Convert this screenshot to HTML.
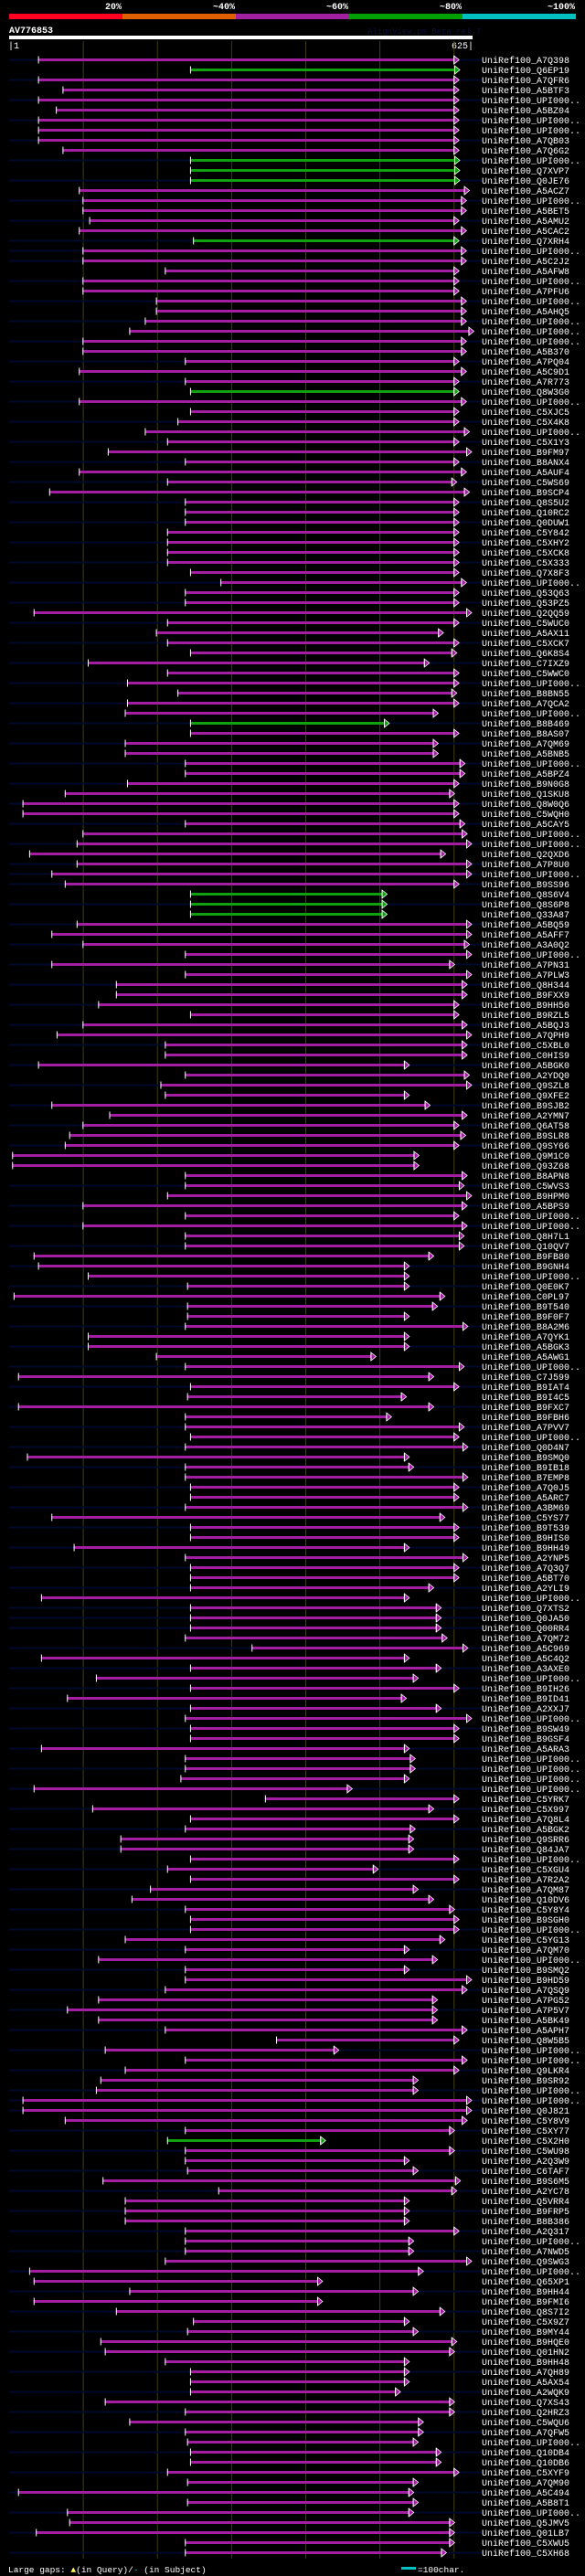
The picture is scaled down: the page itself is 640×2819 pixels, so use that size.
<!DOCTYPE html>
<html><head><meta charset="utf-8"><style>
html,body{margin:0;padding:0;background:#000;}
svg{display:block;}
text{font-family:"Liberation Mono",monospace;}
</style></head><body>
<svg id="chart" width="640" height="2819" xmlns="http://www.w3.org/2000/svg">
<rect x="0" y="0" width="640" height="2819" fill="#000"/>
<g>
<rect x="10" y="15" width="124" height="6" fill="#ff0022"/>
<rect x="134" y="15" width="124" height="6" fill="#e06000"/>
<rect x="258" y="15" width="124" height="6" fill="#a020a0"/>
<rect x="382" y="15" width="124" height="6" fill="#00a000"/>
<rect x="506" y="15" width="124" height="6" fill="#00c0c0"/>
<text x="133" y="10" fill="#fff" font-size="10" font-weight="bold" text-anchor="end">20%</text>
<text x="257" y="10" fill="#fff" font-size="10" font-weight="bold" text-anchor="end">~40%</text>
<text x="381" y="10" fill="#fff" font-size="10" font-weight="bold" text-anchor="end">~60%</text>
<text x="505" y="10" fill="#fff" font-size="10" font-weight="bold" text-anchor="end">~80%</text>
<text x="629" y="10" fill="#fff" font-size="10" font-weight="bold" text-anchor="end">~100%</text>
</g>
<text x="10" y="36" fill="#fff" font-size="10" font-weight="bold">AV776853</text>
<text x="402" y="37" fill="#101038" font-size="9">AlignView.pm Beta rel.7</text>
<rect x="10" y="39" width="507" height="4" fill="#fff"/>
<text x="9" y="53" fill="#fff" font-size="10">|1</text>
<text x="518" y="53" fill="#fff" font-size="10" text-anchor="end">625|</text>
<g id="grid"></g>
<g id="rows"></g>
<g>
<text x="9" y="2815" fill="#fff" font-size="9.5">Large gaps: <tspan fill="#ffff60">▲</tspan>(in Query)/<tspan fill="#00c0c0">-</tspan> (in Subject)</text>
<rect x="439" y="2809" width="16" height="3" fill="#00c0c0"/>
<text x="457" y="2815" fill="#fff" font-size="9.5">=100char.</text>
</g>
</svg>
<script>
const starts=[39,244,39,72,39,63,39,39,39,72,244,244,244,94,99,99,108,94,248,99,99,210,99,99,198,198,183,162,99,99,237,94,237,244,94,244,227,183,213,133,237,94,213,54,237,237,237,213,213,213,213,244,285,237,237,33,213,198,213,244,106,213,
159,227,159,156,244,244,156,156,237,237,159,75,18,18,237,99,91,27,91,57,75,244,244,244,91,57,99,237,57,237,144,144,120,244,99,64,210,210,39,237,204,210,57,135,99,81,75,4,4,237,237,213,99,237,99,237,237,33,39,106,240,6,
240,240,237,106,106,198,237,12,244,240,12,237,237,244,237,24,237,237,244,244,237,57,244,244,87,237,244,244,244,43,244,244,244,237,327,43,244,117,244,78,244,237,244,244,43,237,237,231,33,345,112,244,237,150,150,244,213,244,190,165,237,
244,244,156,237,120,237,237,210,120,78,120,210,360,129,237,156,123,117,18,18,75,237,213,237,237,240,126,282,156,156,156,237,237,237,210,27,33,162,33,144,248,240,123,129,210,244,244,244,129,237,162,237,240,244,244,213,240,12,240,78,81,36,237,237];
const ends=[600,601,600,600,600,600,600,600,600,600,601,601,601,614,610,610,600,610,600,610,610,600,600,600,610,610,610,620,610,610,600,610,600,600,610,600,600,614,600,617,600,610,597,614,600,600,600,600,600,600,600,600,610,600,600,617,600,579,600,597,560,600,
600,597,600,572,506,600,572,572,608,608,600,594,600,600,608,611,617,582,617,617,600,503,503,503,617,617,614,617,594,617,611,611,600,600,611,617,611,611,533,614,617,533,561,611,600,609,600,546,546,611,607,617,611,600,611,607,607,566,533,533,533,581,
571,533,612,533,533,488,607,566,600,529,566,509,607,600,612,533,539,612,600,600,612,581,600,600,533,612,600,600,566,533,576,576,576,584,612,533,576,545,600,529,576,617,600,600,533,541,541,533,456,600,566,600,541,539,539,600,491,600,545,566,594,
600,600,581,533,571,533,617,611,571,571,571,611,600,438,611,600,545,545,617,617,611,594,420,594,533,545,602,597,533,533,533,600,539,539,617,552,416,545,416,581,533,545,597,594,533,533,533,521,594,594,552,552,545,576,576,600,545,539,545,539,594,594,594,583];
const greens=[1,10,11,12,18,33,66,83,84,85,207];
const navy=[1,0,1,0,1,0,1,0,1,0,1,0,1,0,1,0,1,0,1,1,1,0,1,0,1,0,1,0,1,0,1,0,1,0,1,0,1,0,1,0,1,0,1,0,1,0,1,0,1,0,1,0,1,0,1,0,1,0,1,0,1,0,
1,0,1,0,1,0,1,0,1,0,1,0,1,0,1,0,1,0,1,1,1,0,1,0,1,0,1,0,1,0,1,0,1,0,1,0,1,0,1,0,1,0,1,0,1,0,1,0,0,0,1,0,1,0,1,0,1,0,1,0,1,0,
1,0,1,0,1,0,1,0,1,0,1,0,1,0,1,0,1,0,1,0,1,0,1,0,1,0,1,0,1,0,1,1,1,0,1,0,1,0,1,0,1,0,1,0,1,0,1,0,1,0,1,0,1,0,1,0,1,0,1,0,1,
0,1,0,1,0,1,0,1,0,1,0,1,0,1,0,1,0,1,1,1,0,1,0,1,0,1,0,1,0,1,0,1,0,1,0,1,0,1,0,1,0,1,0,1,0,1,0,1,0,1,0,1,0,1,0,1,0,1,0,1,0,1,0,1];
const labels=["A7Q398","Q6EP19","A7QFR6","A5BTF3","UPI000..","A5BZ04","UPI000..","UPI000..","A7QB03","A7Q6G2","UPI000..","Q7XVP7","Q0JE76","A5ACZ7","UPI000..","A5BET5","A5AMU2","A5CAC2","Q7XRH4","UPI000..","A5C2J2","A5AFW8","UPI000..","A7PFU6","UPI000..","A5AHQ5","UPI000..","UPI000..","UPI000..","A5B370","A7PQ04","A5C9D1","A7R773","Q8W3G0","UPI000..","C5XJC5","C5X4K8","UPI000..","C5X1Y3","B9FM97","B8ANX4","A5AUF4","C5WS69","B9SCP4","Q8S5U2","Q10RC2","Q0DUW1","C5Y842","C5XHY2","C5XCK8","C5X333","Q7X8F3","UPI000..","Q53Q63","Q53PZ5","Q2QQ59","C5WUC0","A5AX11","C5XCK7","Q6K8S4","C7IXZ9","C5WWC0",
"UPI000..","B8BN55","A7QCA2","UPI000..","B8B469","B8AS07","A7QM69","A5BNB5","UPI000..","A5BPZ4","B9N0G8","Q1SKU8","Q8W0Q6","C5WQH0","A5CAY5","UPI000..","UPI000..","Q2QXD6","A7P8U0","UPI000..","B9SS96","Q8S6V4","Q8S6P8","Q33A87","A5BQ59","A5AFF7","A3A0Q2","UPI000..","A7PN31","A7PLW3","Q8H344","B9FXX9","B9HH50","B9RZL5","A5BQJ3","A7QPH9","C5XBL0","C0HIS9","A5BGK0","A2YDQ0","Q9SZL8","Q9XFE2","B9SJB2","A2YMN7","Q6AT58","B9SLR8","Q9SY66","Q9M1C0","Q93Z68","B8APN8","C5WVS3","B9HPM0","A5BPS9","UPI000..","UPI000..","Q8H7L1","Q10QV7","B9FB80","B9GNH4","UPI000..","Q0E0K7","C0PL97",
"B9T540","B9F0F7","B8A2M6","A7QYK1","A5BGK3","A5AWG1","UPI000..","C7J599","B9IAT4","B9I4C5","B9FXC7","B9FBH6","A7PVV7","UPI000..","Q0D4N7","B9SMQ0","B9IB18","B7EMP8","A7Q0J5","A5ARC7","A3BM69","C5YS77","B9T539","B9HIS0","B9HH49","A2YNP5","A7Q3Q7","A5BT70","A2YLI9","UPI000..","Q7XTS2","Q0JA50","Q00RR4","A7QM72","A5C969","A5C4Q2","A3AXE0","UPI000..","B9IH26","B9ID41","A2XXJ7","UPI000..","B9SW49","B9GSF4","A5ARA3","UPI000..","UPI000..","UPI000..","UPI000..","C5YRK7","C5X997","A7Q8L4","A5BGK2","Q9SRR6","Q84JA7","UPI000..","C5XGU4","A7R2A2","A7QM87","Q10DV6","C5Y8Y4",
"B9SGH0","UPI000..","C5YG13","A7QM70","UPI000..","B9SMQ2","B9HD59","A7QSQ9","A7PG52","A7P5V7","A5BK49","A5APH7","Q8W5B5","UPI000..","UPI000..","Q9LKR4","B9SR92","UPI000..","UPI000..","Q0J821","C5Y8V9","C5XY77","C5X2H0","C5WU98","A2Q3W9","C6TAF7","B9S6M5","A2YC78","Q5VRR4","B9FRP5","B8B386","A2Q317","UPI000..","A7NWD5","Q9SWG3","UPI000..","Q65XP1","B9HH44","B9FMI6","Q8S7I2","C5X9Z7","B9MY44","B9HQE0","Q01HN2","B9HH48","A7QH89","A5AX54","A2WQK9","Q7XS43","Q2HRZ3","C5WQU6","A7QFW5","UPI000..","Q10DB4","Q10DB6","C5XYF9","A7QM90","A5C494","A5B8T1","UPI000..","Q5JMV5","Q01LB7","C5XWU5","C5XH68"];
const gridTicks=[100,200,300,400,500,600];

const NS="http://www.w3.org/2000/svg";
function xs(p){return 10+p*0.8112;}
function ys(i){return 65.5+i*11;}
function mk(tag,attrs,parent){const e=document.createElementNS(NS,tag);for(const k in attrs)e.setAttribute(k,attrs[k]);parent.appendChild(e);return e;}
const grid=document.getElementById('grid');
gridTicks.forEach(t=>{
  const l=mk('line',{x1:xs(t),x2:xs(t),y1:45,y2:2800,stroke:'#3e3e14','stroke-width':1},grid);
  
  
});
const rows=document.getElementById('rows');
for(let i=0;i<starts.length;i++){
  const y=ys(i);
  const g=mk('g',{},rows);
  
  
  if(navy[i]){mk('rect',{x:10,y:y-1,width:517,height:2,fill:'#000a2c'},g);}
  const col=greens.includes(i)?'#10a010':'#a41ea4';
  const sx=xs(starts[i]),ex=xs(ends[i]);
  const bar=mk('rect',{x:sx,y:y-1.5,width:ex-sx,height:3,fill:col},g);
  
  
  mk('rect',{x:sx,y:y-4,width:1,height:8,fill:'#fff'},g);
  mk('polygon',{points:`${ex},${y-4.5} ${ex+5.5},${y} ${ex},${y+4.5}`,fill:col,stroke:'#fff','stroke-width':0.8},g);
  mk('rect',{x:ex-0.5,y:y-4.5,width:1,height:9,fill:'#fff'},g);
  const t=mk('text',{x:527,y:y+3.5,fill:'#fff','font-size':'10'},g);
  t.textContent='UniRef100_'+labels[i];
  
  
}
</script>
</body></html>
